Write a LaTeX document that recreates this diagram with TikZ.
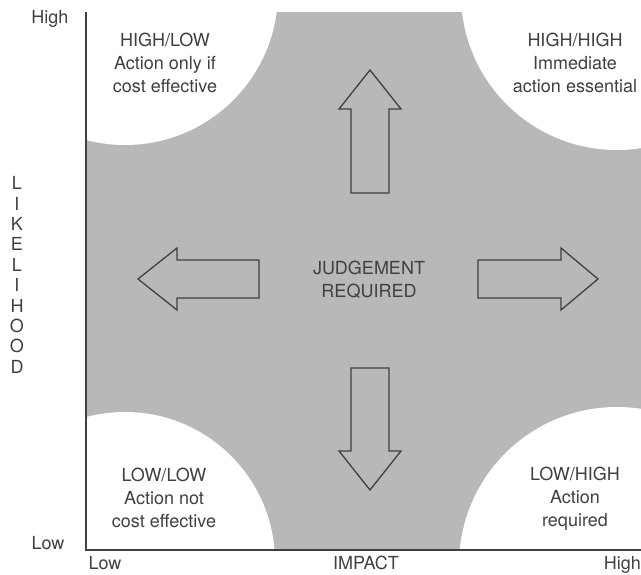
\documentclass[tikz,border=0pt]{standalone}
\usepackage{fontspec}
\setmainfont{TeX Gyre Heros}
\definecolor{zonegray}{gray}{0.72}
\definecolor{inkgray}{gray}{0.25}
\tikzset{
  lbl/.style={font=\fontsize{18}{23}\selectfont, text=inkgray, align=center, inner sep=0pt},
  blockarrow/.style={draw=inkgray, line width=1.3pt, line join=miter},
  axis/.style={draw=inkgray, line width=1.3pt}
}
\begin{document}
\begin{tikzpicture}[x=1pt, y=-1pt]
        \useasboundingbox (0,0) rectangle (641,575);
        % judgement zone with the four corner regions cut out
        \fill[zonegray] (86,12) rectangle (641,550);
        \begin{scope}
            \clip (86,12) rectangle (641,550);
            \fill[white] (125,-8) circle[radius=153pt];
            \fill[white] (617,-6) circle[radius=156pt];
            \fill[white] (125,562) circle[radius=150pt];
            \fill[white] (617,565) circle[radius=158pt];
        \end{scope}

        % axes
        \coordinate (top) at (86,12);
        \coordinate (origin) at (86,550);
        \coordinate (right) at (641,550);
        \draw[axis] (top) -- (origin) -- (right);

        % arrows
        \draw[blockarrow] (370,70) -- (401,109) -- (389,109) -- (389,193) -- (351,193) -- (351,109) -- (339,109) -- cycle;
        \draw[blockarrow] (370,490) -- (401,451) -- (389,451) -- (389,368) -- (351,368) -- (351,451) -- (339,451) -- cycle;
        \draw[blockarrow] (138,279) -- (177,248) -- (177,260) -- (259,260) -- (259,298) -- (177,298) -- (177,310) -- cycle;
        \draw[blockarrow] (598,279) -- (561,248) -- (561,260) -- (478,260) -- (478,298) -- (561,298) -- (561,310) -- cycle;

        \node[lbl] (judge) at (369,280) {JUDGEMENT\\REQUIRED};

        % corner regions
        \node[lbl] (hl) at (165,63) {HIGH/LOW\\Action only if\\cost effective};
        \node[lbl] (hh) at (575,63) {HIGH/HIGH\\Immediate\\action essential};
        \node[lbl] (ll) at (164,498) {LOW/LOW\\Action not\\cost effective};
        \node[lbl] (lh) at (575,499) {LOW/HIGH\\Action\\required};

        % axis labels
        \node[lbl] (yhigh) at (50,19) {High};
        \node[lbl] (ylow) at (48,543) {Low};
        \node[lbl, font=\fontsize{18}{20.4}\selectfont] (ytitle) at (17,275) {L\\I\\K\\E\\L\\I\\H\\O\\O\\D};
        \node[lbl, anchor=base] (xlow) at (105,569) {Low};
        \node[lbl, anchor=base] (xtitle) at (366,569) {IMPACT};
        \node[lbl, anchor=base east] (xhigh) at (641,569) {High};
    \end{tikzpicture}
\end{document}
